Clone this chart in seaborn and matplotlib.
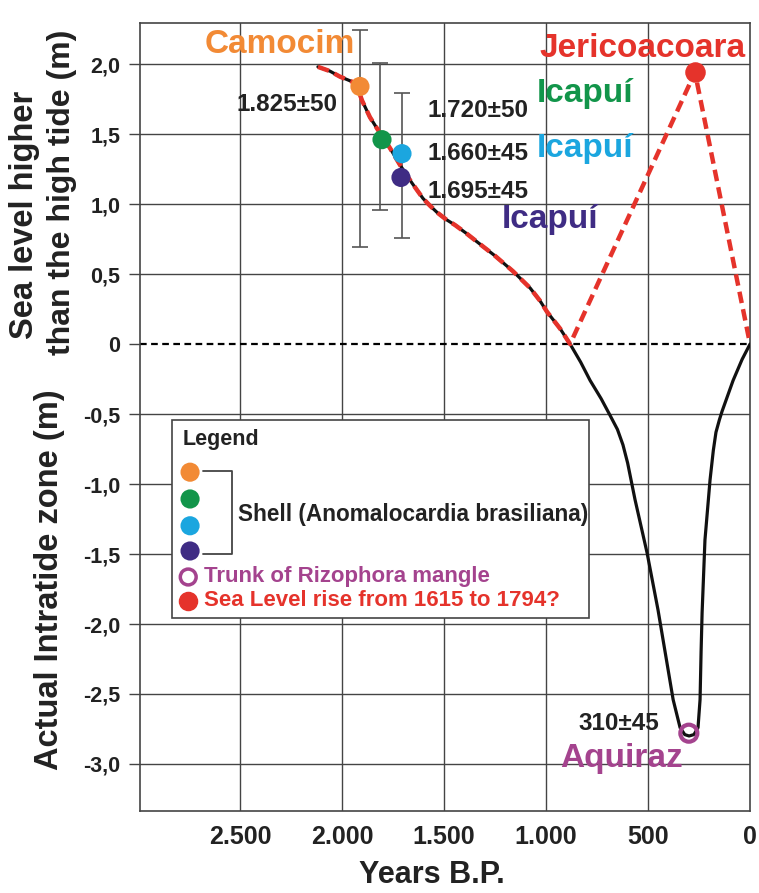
import numpy as np
import pandas as pd
import seaborn as sns
import matplotlib.pyplot as plt
from matplotlib.patches import Rectangle

# Sea level curve (years B.P., metres)
curve_years = [2118, 2060, 2010, 1960, 1931, 1902, 1863, 1824, 1765, 1716, 1657, 1603, 1570,
               1534, 1490, 1446, 1390, 1338, 1250, 1162, 1078, 1030, 995, 931, 882,
               830, 784, 730, 686, 650, 623, 600, 564, 505, 451, 407, 377, 343, 320, 299,
               275, 255, 245, 240, 235, 221, 196, 180, 167, 150, 137, 110, 83, 39, 0]
curve_level = [1.98, 1.95, 1.91, 1.88, 1.86, 1.74, 1.62, 1.53, 1.40, 1.28, 1.15, 1.04, 0.99,
               0.94, 0.89, 0.85, 0.79, 0.73, 0.63, 0.52, 0.40, 0.31, 0.23, 0.11, 0.0,
               -0.13, -0.26, -0.39, -0.51, -0.61, -0.72, -0.85, -1.11, -1.49, -1.90, -2.28,
               -2.54, -2.74, -2.79, -2.80,
               -2.79, -2.74, -2.54, -2.20, -1.92, -1.40, -0.97, -0.76, -0.63, -0.54, -0.48,
               -0.37, -0.26, -0.11, 0.0]

# hypothetical rise (red dashed): upper part of the curve, then Jericoacoara peak, then 0
n_up = curve_years.index(882) + 1
rise_years = curve_years[:n_up] + [270, 0]
rise_level = curve_level[:n_up] + [1.94, 0.0]

# shell dates
shell_sites = ["Camocim", "Icapuí 1", "Icapuí 2", "Icapuí 3"]
shell_years = [1912, 1804, 1706, 1711]
shell_level = [1.84, 1.46, 1.36, 1.19]
shell_colors = ["#f28a35", "#12954a", "#1ba6df", "#3f2c84"]

# error bars (drawn vertically as in the original)
err_years = [1912, 1814, 1706]
err_mid = [1.84, 1.46, 1.27]
err_low = [0.69, 0.96, 0.76]
err_high = [2.24, 2.01, 1.79]

jeri_years, jeri_level = 270, 1.94
aqui_years, aqui_level = 300, -2.78

x_ticks = [2500, 2000, 1500, 1000, 500, 0]
x_labels = ["2.500", "2.000", "1.500", "1.000", "500", "0"]
y_ticks = [2.0, 1.5, 1.0, 0.5, 0.0, -0.5, -1.0, -1.5, -2.0, -2.5, -3.0]
y_labels = ["2,0", "1,5", "1,0", "0,5", "0", "-0,5", "-1,0", "-1,5", "-2,0", "-2,5", "-3,0"]

RED = "#e5332b"
MAG = "#a4438e"
DARK = "#222222"

sns.set_theme(style="white")
plt.rcParams["font.family"] = ["Liberation Sans", "DejaVu Sans"]
plt.rcParams["font.weight"] = "bold"

fig = plt.figure(figsize=(7.59, 8.93), dpi=100)
ax = fig.add_axes([0.1845, 0.0918, 0.8037, 0.8824])

ax.set_xlim(2990, 0)
ax.set_ylim(-3.336, 2.293)

# grid (no solid line at zero, that one is dashed)
for xv in x_ticks[:-1]:
    ax.axvline(xv, color="#444444", lw=1.0, zorder=0)
for yv in y_ticks:
    if yv != 0:
        ax.axhline(yv, color="#444444", lw=1.0, zorder=0)
ax.axhline(0, color="black", lw=1.6, ls=(0, (3, 2)), zorder=1)

curve = pd.DataFrame({"years": curve_years, "level": curve_level})
rise = pd.DataFrame({"years": rise_years, "level": rise_level})
sns.lineplot(data=curve, x="years", y="level", sort=False, estimator=None,
             color="#111111", lw=2.3, ax=ax, zorder=3)
sns.lineplot(data=rise, x="years", y="level", sort=False, estimator=None,
             color=RED, lw=3.2, ax=ax, zorder=4)
ax.lines[-1].set_dashes((2.6, 1.4))

ax.errorbar(err_years, err_mid,
            yerr=[np.subtract(err_mid, err_low), np.subtract(err_high, err_mid)],
            fmt="none", ecolor="#555555", elinewidth=1.2, capsize=6, capthick=1.2, zorder=2)

shells = pd.DataFrame({"years": shell_years, "level": shell_level, "site": shell_sites})
sns.scatterplot(data=shells, x="years", y="level", hue="site", palette=shell_colors,
                s=190, edgecolor="none", legend=False, ax=ax, zorder=5)
ax.scatter([jeri_years], [jeri_level], s=190, color=RED, zorder=5)
ax.scatter([aqui_years], [aqui_level], s=150, facecolor="none", edgecolor=MAG, lw=3, zorder=5)

# annotations
ax.text(2304, 2.14, "Camocim", color="#f28a35", fontsize=24, ha="center", va="center")
ax.text(525, 2.11, "Jericoacoara", color=RED, fontsize=24, ha="center", va="center")
ax.text(2020, 1.71, "1.825±50", color=DARK, fontsize=17.5, ha="right", va="center")
ax.text(1583, 1.67, "1.720±50", color=DARK, fontsize=17.5, ha="left", va="center")
ax.text(1583, 1.36, "1.660±45", color=DARK, fontsize=17.5, ha="left", va="center")
ax.text(1583, 1.09, "1.695±45", color=DARK, fontsize=17.5, ha="left", va="center")
ax.text(809, 1.79, "Icapuí", color=shell_colors[1], fontsize=24, ha="center", va="center")
ax.text(809, 1.40, "Icapuí", color=shell_colors[2], fontsize=24, ha="center", va="center")
ax.text(980, 0.89, "Icapuí", color=shell_colors[3], fontsize=24, ha="center", va="center")
ax.text(642, -2.71, "310±45", color=DARK, fontsize=17.5, ha="center", va="center")
ax.text(632, -2.96, "Aquiraz", color=MAG, fontsize=24, ha="center", va="center")

# legend box, drawn by hand in axes coordinates
tr = ax.transAxes
ax.add_patch(Rectangle((0.0525, 0.245), 0.6835, 0.251, transform=tr,
                       facecolor="white", edgecolor="#444444", lw=1.2, zorder=6))
ax.text(0.07, 0.471, "Legend", transform=tr, fontsize=15.5, color=DARK, va="center", zorder=7)
leg_y = [0.430, 0.396, 0.362, 0.330]
ax.scatter([0.082] * 4, leg_y, s=190, c=shell_colors, transform=tr, zorder=7,
           edgecolor="none", clip_on=False)
ax.plot([0.103, 0.151, 0.151, 0.103], [0.4315, 0.4315, 0.326, 0.326], transform=tr,
        color="#444444", lw=1.3, zorder=7)
ax.text(0.161, 0.376, "Shell (Anomalocardia brasiliana)", transform=tr, fontsize=16.3,
        color=DARK, va="center", zorder=7)
ax.scatter([0.079], [0.297], s=130, facecolor="none", edgecolor=MAG, lw=2.5,
           transform=tr, zorder=7)
ax.text(0.105, 0.297, "Trunk of Rizophora mangle", transform=tr, fontsize=16,
        color=MAG, va="center", zorder=7)
ax.scatter([0.079], [0.267], s=170, color=RED, transform=tr, zorder=7)
ax.text(0.105, 0.267, "Sea Level rise from 1615 to 1794?", transform=tr, fontsize=16,
        color=RED, va="center", zorder=7)

# axes styling
ax.set_xticks(x_ticks)
ax.set_xticklabels(x_labels, fontsize=18, color=DARK)
ax.set_yticks(y_ticks)
ax.set_yticklabels(y_labels, fontsize=15.5, color=DARK)
ax.tick_params(axis="x", length=0, pad=10)
ax.tick_params(axis="y", length=8, width=1, color="#444444", left=True, pad=6)
for sp in ax.spines.values():
    sp.set_color("#444444")
    sp.set_linewidth(1.2)
ax.set_xlabel("")
ax.set_ylabel("")

fig.text(432 / 759, 1 - 875 / 893, "Years B.P.", fontsize=22, color=DARK,
         ha="center", va="center")
fig.text(25 / 759, 1 - 215 / 893, "Sea level higher", fontsize=23.5, color=DARK,
         rotation=90, ha="center", va="center")
fig.text(62 / 759, 1 - 192 / 893, "than the high tide (m)", fontsize=23, color=DARK,
         rotation=90, ha="center", va="center")
fig.text(50 / 759, 1 - 580 / 893, "Actual Intratide zone (m)", fontsize=23.5, color=DARK,
         rotation=90, ha="center", va="center")

fig.savefig("out.png", dpi=100)
